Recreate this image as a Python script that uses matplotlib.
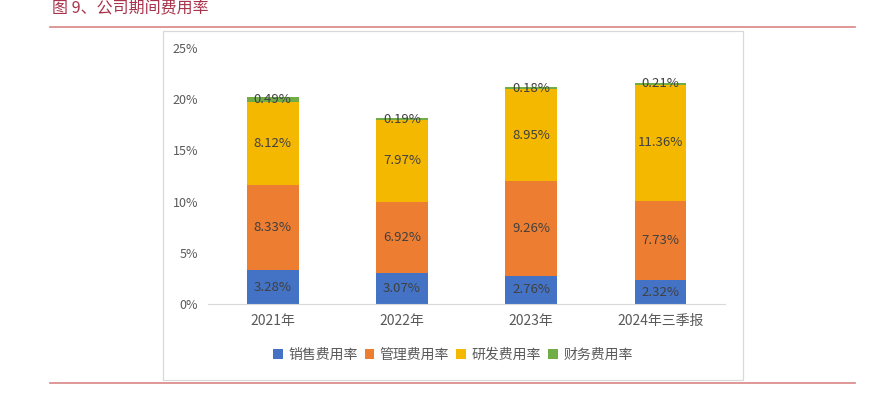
import numpy as np
import matplotlib.pyplot as plt
from matplotlib.patches import Rectangle
from matplotlib.lines import Line2D

plt.rcParams['font.family'] = ['Noto Sans CJK SC', 'DejaVu Sans']

# data (percent)
categories = ['2021年', '2022年', '2023年', '2024年三季报']
series_names = ['销售费用率', '管理费用率', '研发费用率', '财务费用率']
sales = [3.28, 3.07, 2.76, 2.32]
admin = [8.33, 6.92, 9.26, 7.73]
rnd = [8.12, 7.97, 8.95, 11.36]
finance = [0.49, 0.19, 0.18, 0.21]
colors = ['#4472C4', '#ED7D31', '#F5B800', '#70AD47']

fig = plt.figure(figsize=(8.69, 3.97), dpi=100)

# title and red rules
fig.text(0.060, 0.978, '图 9、公司期间费用率', color='#A8324A', fontsize=11.5,
         va='center', ha='left')
fig.add_artist(Line2D([0.0575, 0.984], [0.932, 0.932], color='#D98585', lw=1.2))
fig.add_artist(Line2D([0.0575, 0.984], [0.0353, 0.0353], color='#D98585', lw=1.2))
# chart frame
fig.add_artist(Rectangle((0.1876, 0.0428), 0.6674, 0.879, transform=fig.transFigure,
                         fill=False, edgecolor='#D9D9D9', lw=0.9))

ax = fig.add_axes([0.2394, 0.2343, 0.5950, 0.6447])
x = np.arange(len(categories))
bottom = np.zeros(len(categories))
handles = []
for name, vals, c in zip(series_names, [sales, admin, rnd, finance], colors):
    vals = np.array(vals)
    b = ax.bar(x, vals, 0.4, bottom=bottom, color=c, label=name)
    handles.append(b)
    for xi, v, bt in zip(x, vals, bottom):
        ax.text(xi, bt + v / 2, f'{v:.2f}%', ha='center', va='center',
                fontsize=9.5, color='#404040')
    bottom += vals

ax.set_xlim(-0.5, 3.5)
ax.set_ylim(0, 25)
ax.set_yticks([0, 5, 10, 15, 20, 25])
ax.set_yticklabels([f'{t}%' for t in [0, 5, 10, 15, 20, 25]])
ax.set_xticks(x)
ax.set_xticklabels(categories)
ax.tick_params(length=0, colors='#595959')
ax.tick_params(axis='y', pad=7, labelsize=9)
ax.tick_params(axis='x', pad=7, labelsize=10)
for s in ['top', 'right', 'left']:
    ax.spines[s].set_visible(False)
ax.spines['bottom'].set_color('#D9D9D9')

fig.legend(handles=handles, labels=series_names, loc='center',
           bbox_to_anchor=(0.521, 0.106), ncol=4, frameon=False, fontsize=10,
           handlelength=0.7, handleheight=0.7, handletextpad=0.4,
           columnspacing=0.5, labelcolor='#595959')

fig.savefig('out.png', dpi=100)
